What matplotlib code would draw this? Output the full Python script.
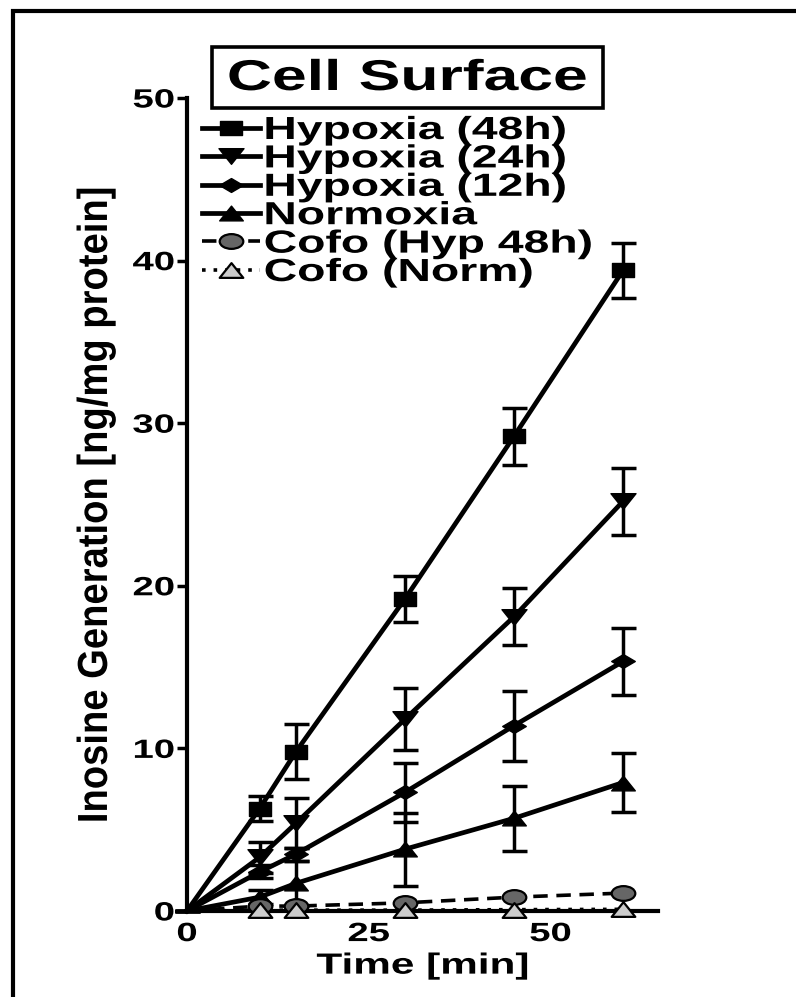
import numpy as np
import matplotlib
matplotlib.use("Agg")
import matplotlib.pyplot as plt
from matplotlib.patheffects import AbstractPathEffect
from matplotlib.transforms import Affine2D
from matplotlib.path import Path
from matplotlib.patches import Rectangle
from matplotlib.lines import Line2D

plt.rcParams['font.family'] = ['Liberation Sans', 'DejaVu Sans']
plt.rcParams['font.weight'] = 'bold'


class Stretch(AbstractPathEffect):
    # widen glyphs about an anchor so the lettering looks like the wide exported figure
    def __init__(self, sx=1.0, sy=1.0, anchor='center'):
        super().__init__()
        self.sx, self.sy, self.anchor = sx, sy, anchor

    def draw_path(self, renderer, gc, tpath, affine, rgbFace=None):
        ext = tpath.get_extents()
        if self.anchor == 'left':
            cx = ext.x0
        elif self.anchor == 'right':
            cx = ext.x1
        else:
            cx = (ext.x0 + ext.x1) / 2
        cy = (ext.y0 + ext.y1) / 2
        pre = Affine2D().translate(-cx, -cy).scale(self.sx, self.sy).translate(cx, cy)
        renderer.draw_path(gc, tpath, pre + affine, rgbFace)


SX = 1.45

# time points [min]
time = [0, 10, 15, 30, 45, 60]

# inosine generation [ng/mg protein], mean and SEM
hyp48 = [0, 6.3, 9.8, 19.2, 29.2, 39.4]
hyp48_err = [0, 0.75, 1.7, 1.4, 1.75, 1.7]
hyp24 = [0, 3.3, 5.4, 11.8, 18.1, 25.2]
hyp24_err = [0, 0.95, 1.55, 1.9, 1.75, 2.05]
hyp12 = [0, 2.4, 3.5, 7.3, 11.4, 15.35]
hyp12_err = [0, 0.4, 0.4, 1.8, 2.15, 2.05]
norm = [0, 0.85, 1.7, 3.8, 5.7, 7.9]
norm_err = [0, 0.45, 1.4, 2.25, 2.0, 1.8]
cofo_hyp = [0, 0.3, 0.3, 0.5, 0.85, 1.1]
cofo_norm = [0, 0.05, 0.05, 0.05, 0.08, 0.1]

labels = ['Hypoxia (48h)', 'Hypoxia (24h)', 'Hypoxia (12h)', 'Normoxia',
          'Cofo (Hyp 48h)', 'Cofo (Norm)']


def wide(verts):
    return Path(verts + [verts[0]], closed=True)


m_square = wide([(-1.6, -1), (1.6, -1), (1.6, 1), (-1.6, 1)])
m_down = wide([(0, -1), (-1.6, 1), (1.6, 1)])
m_diam = wide([(-1.7, 0), (0, 1), (1.7, 0), (0, -1)])
m_up = wide([(0, 1), (-1.6, -1), (1.6, -1)])
m_ell = Path.unit_circle().transformed(Affine2D().scale(1.6, 1))

fig = plt.figure(figsize=(7.96, 9.97), dpi=100)
ax = fig.add_axes([0.2349, 0.0863, 0.5917, 0.8154])

series = [
    (hyp48, hyp48_err, m_square, 15.8, 'black', '-', 3.4, None),
    (hyp24, hyp24_err, m_down, 18, 'black', '-', 3.4, None),
    (hyp12, hyp12_err, m_diam, 17, 'black', '-', 3.4, None),
    (norm, norm_err, m_up, 17, 'black', '-', 3.4, None),
    (cofo_hyp, None, m_ell, 17, '#666666', (0, (4, 2.4)), 2.6, 1.6),
    (cofo_norm, None, m_up, 17, '#cccccc', (0, (1, 2.2)), 2.6, 1.6),
]
handles = []
for (y, e, mk, ms, fc, ls, lw, mew), lab in zip(series, labels):
    if e is not None:
        ax.errorbar(time, y, yerr=e, fmt='none', ecolor='black', elinewidth=2.5,
                    capsize=9, capthick=2.5, clip_on=False, zorder=3)
    ax.plot(time, y, color='black', lw=lw, ls=ls, clip_on=False, zorder=4)
    # no symbol at the shared origin
    ax.plot(time[1:], y[1:], ls='none', marker=mk, ms=ms, mfc=fc, mec='black',
            mew=mew if mew else 1.0, clip_on=False, zorder=5)
    handles.append(Line2D([], [], color='black', lw=lw, ls=ls, marker=mk, ms=ms,
                          mfc=fc, mec='black', mew=mew if mew else 1.0, label=lab))

ax.set_xlim(0, 64.8)
ax.set_ylim(0, 50)
ax.set_xticks([0, 25, 50])
ax.set_yticks([0, 10, 20, 30, 40, 50])
for side in ['top', 'right']:
    ax.spines[side].set_visible(False)
for side in ['left', 'bottom']:
    ax.spines[side].set_linewidth(3)
ax.tick_params(axis='y', length=7, width=2.5, pad=2, labelsize=19)
ax.tick_params(axis='x', length=0, width=2.5, pad=8, labelsize=19)
for t in ax.get_yticklabels():
    t.set_fontweight('bold')
    t.set_path_effects([Stretch(SX, 1, 'right')])
for t in ax.get_xticklabels():
    t.set_fontweight('bold')
    t.set_path_effects([Stretch(SX, 1, 'center')])

ax.set_xlabel('Time [min]', fontsize=21, fontweight='bold', labelpad=4,
              path_effects=[Stretch(SX, 1, 'center')])
ax.set_ylabel('Inosine Generation [ng/mg protein]', fontsize=27.5,
              fontweight='bold', family=['Liberation Sans Narrow', 'Liberation Sans'],
              path_effects=[Stretch(1, 1.1, 'center')])
ax.yaxis.set_label_coords((114 - 187) / 471, 0.5)

leg = ax.legend(handles=handles, loc='upper left', bbox_to_anchor=(202 / 796, 1 - 116 / 997),
                bbox_transform=fig.transFigure, frameon=False,
                handlelength=1.8, handletextpad=0.15, labelspacing=-0.05,
                borderpad=0, borderaxespad=0, prop={'weight': 'bold', 'size': 23})
for t in leg.get_texts():
    t.set_path_effects([Stretch(SX, 1, 'left')])

# title box
fig.add_artist(Rectangle((212 / 796, 1 - 108 / 997), 391 / 796, 61 / 997,
                         transform=fig.transFigure, fill=False, lw=2.6, ec='black'))
fig.text(407 / 796, 1 - 79 / 997, 'Cell Surface', ha='center', va='center',
         fontsize=31, fontweight='bold', path_effects=[Stretch(SX, 1, 'center')])

# outer frame
fig.add_artist(Rectangle((13 / 796, -0.5), 2, 0.5 + 1 - 11 / 997,
                         transform=fig.transFigure, fill=False, lw=3, ec='black',
                         clip_on=False))

plt.savefig('out.png', dpi=100)
